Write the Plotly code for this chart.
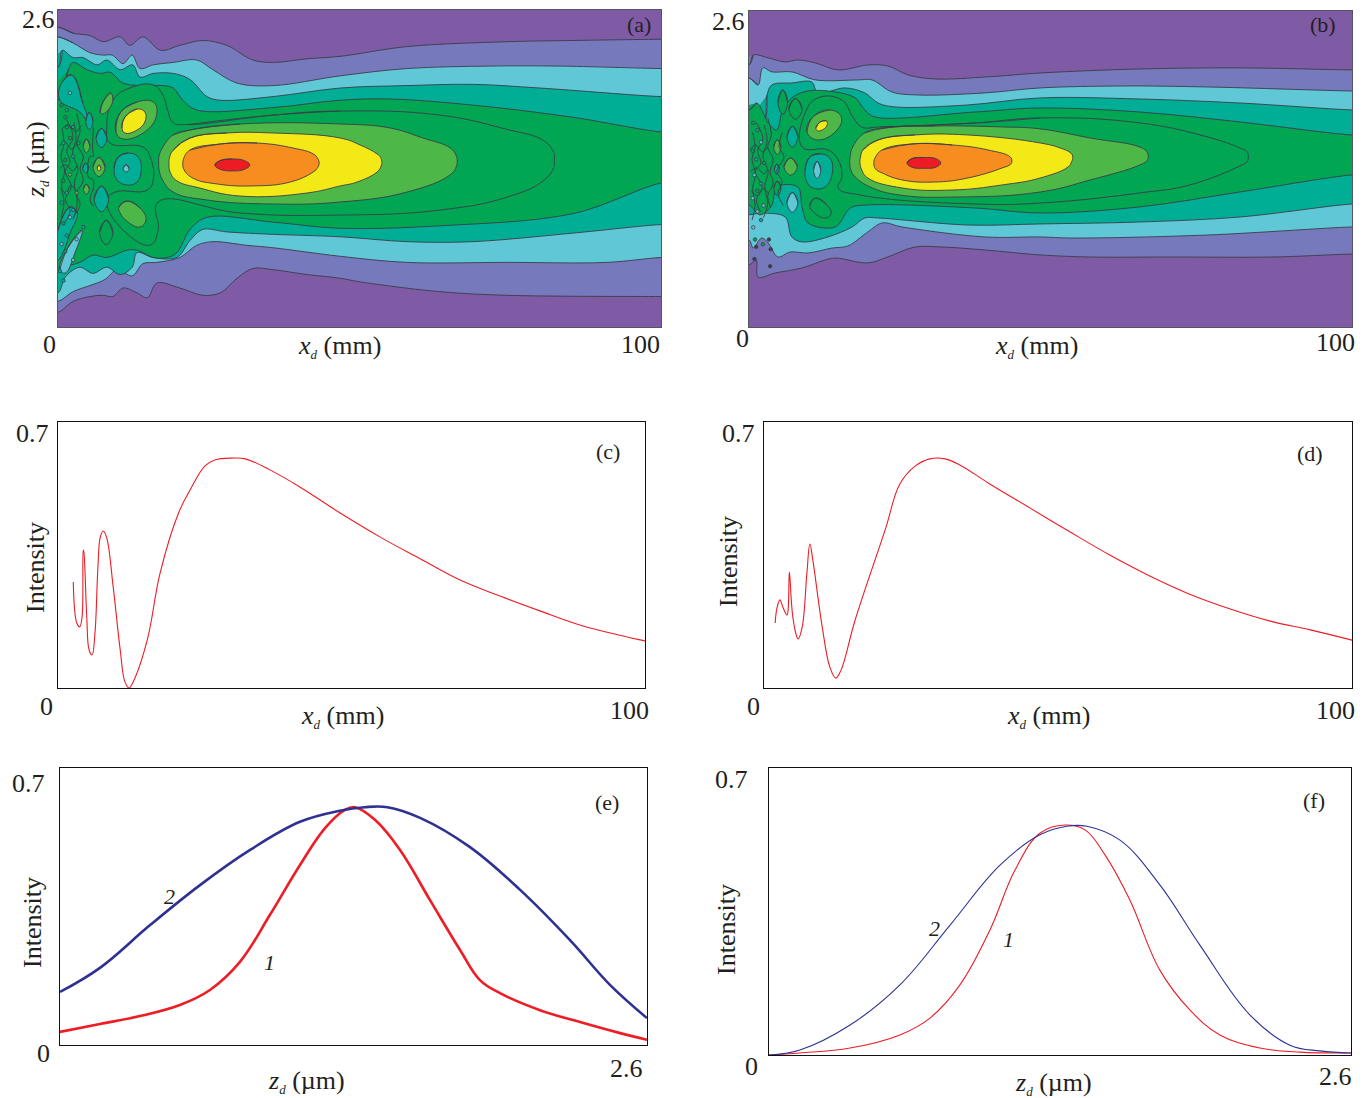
import plotly.graph_objects as go

W, H = 1369, 1098
PURPLE, VIOLET, CYAN, TEAL = "#7F5AA5", "#7679BB", "#5FC7D6", "#00AE95"
GREEN, LIGHT, YELLOW, ORANGE, RED = "#00A651", "#4DB848", "#F2E916", "#F78D1E", "#ED1C24"
EDGE = "#3c3c4a"

# ---------- panel (a): open bands, (x, z) ----------
a1_tx = [0,2.5,5.3,7.5,10.3,11.9,14.1,17,20.2,24,28,32.3,35.7,41.3,46.8,57.9,74.5,85.4,100]
a1_tz = [2.46,2.41,2.39,2.34,2.38,2.31,2.38,2.27,2.31,2.35,2.31,2.19,2.17,2.20,2.22,2.30,2.34,2.35,2.36]
a1_bx = [0,2.5,5.3,7.5,9.1,10.8,13.1,14.8,16.4,20.2,24,26.9,29.7,32.3,35.7,41.3,46.8,50.1,63.3,74.5,100]
a1_bz = [.12,.21,.25,.26,.25,.32,.28,.24,.36,.32,.26,.28,.40,.48,.47,.43,.40,.37,.29,.26,.25]
a2_tx = [0,2.5,5.3,7.5,9,10.8,12.3,13.6,15.8,19.1,23,25.7,29.7,35.7,46.8,57.9,71.6,82.8,100]
a2_tz = [2.38,2.33,2.25,2.23,2.23,2.16,2.23,2.12,2.15,2.17,2.19,2.11,2.00,1.98,2.06,2.12,2.14,2.14,2.12]
a2_bx = [0,2.5,5.3,7.8,9.8,12.3,14.1,16.4,20.2,23,25.7,31.3,35.7,46.8,57.9,74.5,91,100]
a2_bz = [.21,.29,.34,.39,.47,.42,.52,.53,.57,.67,.70,.67,.65,.58,.53,.53,.53,.57]
a3_tx = [0,.7,2.5,4.1,6.5,8.1,10.3,12.4,13.6,15.8,19.1,21.9,24.7,26.9,35.7,46.8,57.9,68.8,79.9,100]
a3_tz = [2.13,2.27,2.21,2.21,2.15,2.19,2.11,2.15,2.05,2.08,2.08,2.03,1.89,1.86,1.89,1.96,1.98,1.99,1.96,1.89]
a3_bx = [0,1.2,3.6,5.8,8.1,10.3,12.3,13.1,15.8,19.7,21.9,24,28,35.7,46.8,57.9,68.8,85.4,100]
a3_bz = [.28,.41,.49,.44,.49,.43,.49,.61,.57,.57,.71,.80,.78,.76,.74,.70,.70,.77,.84]
a4_tx = [0,1.7,2.5,4.8,7,8.6,10.8,13.6,17.4,19.1,20.7,23,35.7,46.8,55.1,68.8,85.4,100]
a4_tz = [1.86,2.11,2.17,2.11,2.08,2.09,2.00,1.98,1.98,1.96,1.86,1.78,1.80,1.86,1.87,1.82,1.72,1.60]
a4_bx = [0,3.6,5.8,8.1,11.4,13.1,15.8,18.1,19.7,21.9,24.7,35.7,46.8,63.3,85.4,100]
a4_bz = [.49,.53,.59,.57,.63,.63,.57,.57,.61,.80,.90,.86,.81,.83,.93,1.18]

# ---------- panel (a): closed contours ----------
a5_x = [46.8,35.7,21.4,19.1,18.2,17.4,15.8,11.9,9.1,8.1,8.6,14.1,15.3,15.8,14.8,9.5,8.1,10.3,15.3,16.6,16.6,30.2,46.8,63.3,74.5,80.5,82.2,82.3,82.2,80.5,74.5,63.3]
a5_z = [1.771,1.738,1.66,1.677,1.775,1.9,1.985,1.96,1.861,1.64,1.509,1.476,1.394,1.205,1.122,1.107,1.041,.82,.672,.795,1.025,.935,.918,.959,1.066,1.2,1.31,1.37,1.43,1.53,1.62,1.738]
a6_x = [30.2,21.9,19.1,17.4,16.8,16.7,16.8,17.4,19.1,24.7,35.7,46.8,57.9,65,66,66.2,66,65,60.5,55.1,46.8]
a6_z = [1.665,1.616,1.575,1.476,1.41,1.345,1.28,1.2,1.107,1.042,1.009,1.025,1.107,1.247,1.31,1.36,1.41,1.47,1.55,1.632,1.665]
a7_x = [28,21.9,19.1,18.5,18.4,18.6,19.7,23.5,30.2,41.3,46.8,49.6,52.9,53.5,53.7,53.5,52.9,50.1,46.8,35.7]
a7_z = [1.591,1.55,1.45,1.39,1.335,1.27,1.2,1.14,1.074,1.099,1.157,1.189,1.27,1.31,1.35,1.39,1.42,1.493,1.55,1.591]
a8_x = [33,26.9,21.9,20.9,20.7,20.9,22.4,26.4,32.3,38.5,42.3,43.1,43.3,43.1,42.3,39]
a8_z = [1.509,1.501,1.452,1.39,1.34,1.29,1.22,1.173,1.157,1.189,1.271,1.31,1.345,1.38,1.42,1.468]
a9_x = [28.9,26.9,26,26.9,28.9,30.9,31.8,30.9]
a9_z = [1.378,1.365,1.329,1.293,1.28,1.293,1.329,1.365]

a_islands = [
    (TEAL,[.7,2.3,4.1,5.3,3.6,.3],[2.009,2.066,1.837,1.656,1.763,1.861]),
    (TEAL,[0,2,3.2,2,.8,0],[.795,.984,.935,.771,.607,.55]),
    (CYAN,[.3,1.7,4,2.8,1.2],[.467,.656,.795,.607,.443]),
    (LIGHT,[9.6,10.3,13.1,15.8,16.4,14.8,10.8],[1.60,1.755,1.845,1.845,1.755,1.616,1.542]),
    (YELLOW,[10.6,11.1,13.1,14.4,14.4,12.8,11.1],[1.632,1.722,1.788,1.763,1.681,1.607,1.591]),
    (LIGHT,[10.1,11.4,13.6,14.6,13.6,11.6,10.3],[.984,1.033,.976,.878,.82,.861,.935]),
    (TEAL,[9.3,10,11.6,13.3,13.8,13.1,11.4,9.8],[1.304,1.394,1.427,1.394,1.288,1.189,1.165,1.206]),
    (CYAN,[10.8,11.3,11.8,11.3],[1.30,1.33,1.30,1.27]),
    (LIGHT,[5.8,6.8,7.8,6.8],[1.312,1.39,1.312,1.234]),
    (YELLOW,[6.5,6.8,7.1,6.8],[1.304,1.329,1.304,1.279]),
    (TEAL,[6.3,7.2,8.1,7.2],[1.55,1.628,1.55,1.472]),
    (TEAL,[4.6,5.2,5.8,5.2],[1.69,1.76,1.69,1.62]),
    (LIGHT,[7.0,7.5,8.7,9.1,8.5,7.4],[1.76,1.85,1.92,1.87,1.79,1.747]),
    (LIGHT,[4.2,4.7,5.3,4.7],[1.485,1.54,1.485,1.43]),
    (TEAL,[4.1,4.6,5.1,4.6],[1.304,1.344,1.304,1.264]),
    (LIGHT,[4.2,4.7,5.2,4.7],[1.13,1.17,1.13,1.09]),
    (TEAL,[6,7.2,8.4,7.2],[1.05,1.155,1.05,.945]),
    (GREEN,[6.9,8,9.1,8],[.775,.875,.775,.675]),
]
a_lines_x = [[5.86,5.75,5.86,5.3,5.03,5.86,5.86,5.3,5.86],
             [3.1,3.65,3.1,4.2,3.65,4.2,3.1,3.65,2.5],
             [1.45,2.5,1.45,2,1.2,2.2,1.2,2,1],
             [.3,1.2,2.5,3.1],[.2,1.1,2.2,3.2],[.4,1.3,2.1,3],[.6,1.6,2.9,3.8],
             [2.6,3,2.4,3.3,2.7,3.2,2.5],[.7,1,.5,1.1,.6,1,.5]]
a_lines_z = [[1.64,1.45,1.40,1.40,1.23,1.205,1.14,1.04,.99],
             [1.75,1.6,1.5,1.4,1.3,1.2,1.1,1.0,.9],
             [1.7,1.55,1.45,1.35,1.28,1.15,1.05,.95,.85],
             [1.3,1.33,1.28,1.32],[1.48,1.52,1.46,1.5],[1.14,1.1,1.16,1.12],[1.62,1.66,1.6,1.65],
             [1.68,1.55,1.42,1.3,1.18,1.02,.88],[1.62,1.5,1.4,1.28,1.16,1.02,.9]]
a_dots_x = [2,.6,1.45,1.2,1.45,2.5,2,.9,3.4,2.5,1.2,2,.9,3.1,1.45,.6,2.5,2,.9,1.45,3.1,.6,4.2,1.2,2.5,.3,.9]
a_dots_z = [1.92,1.82,1.78,1.72,1.64,1.64,1.55,1.51,1.51,1.40,1.37,1.25,1.2,1.1,1.1,1.02,.96,.9,.85,.75,.72,.68,.82,.62,.55,.46,.38]
a_dots_c = [CYAN,GREEN,TEAL,GREEN,GREEN,TEAL,GREEN,TEAL,GREEN,TEAL,GREEN,LIGHT,GREEN,LIGHT,TEAL,TEAL,TEAL,CYAN,GREEN,TEAL,CYAN,CYAN,TEAL,GREEN,CYAN,TEAL,TEAL]

# ---------- panel (b) ----------
b1_tx = [0,.7,3.2,6,8.1,11,14.8,19.7,23,26.4,30.9,39.6,48.3,64.8,81.4,100]
b1_tz = [2.156,2.238,2.214,2.181,2.197,2.173,2.115,2.156,2.148,2.074,2.041,2.058,2.09,2.123,2.132,2.115]
b1_bx = [0,1.2,1.5,4.3,8.8,12.6,14.3,19.7,23,27.5,32,39.1,48.3,56.5,70.3,86.9,100]
b1_bz = [.51,.551,.41,.444,.486,.551,.568,.527,.576,.658,.658,.634,.593,.576,.576,.576,.60]
b2_tx = [0,1.5,2.3,3.8,7.1,11,18.1,20.4,23.7,28,39.1,48.3,62,75.9,100]
b2_tz = [2.049,1.992,2.132,2.099,2.099,2.033,2.033,2.033,1.934,1.909,1.926,1.967,1.983,1.975,1.942]
b2_bx = [0,.7,2.1,3.2,4.8,6.8,9.8,13.8,16.4,19.7,22.1,25.4,39.1,48.3,53.7,76,100]
b2_bz = [.716,.65,.732,.691,.576,.617,.609,.65,.667,.782,.856,.823,.741,.741,.732,.757,.823]
b3_tx = [2.3,3,3.8,7.1,10.4,11.4,15.9,19.2,21.4,24.2,36.3,48.3,64.8,81.4,100]
b3_tz = [1.662,1.909,1.992,2.008,2.016,1.926,1.967,1.926,1.843,1.811,1.827,1.885,1.876,1.843,1.786]
b3_bx = [2.3,6,7.1,8.8,13.1,17.1,19.2,21.4,36.3,48.3,64.8,81.4,100]
b3_bz = [.938,.905,.741,.70,.741,.823,.897,.897,.839,.848,.864,.905,1.012]
b4_tx = [0,1.3,3.2,4.6,5.6,7.3,9.8,14.3,17.6,19.2,20.9,37.5,48.3,64.8,81.4,100]
b4_tz = [1.786,1.843,1.679,1.621,1.786,1.893,1.942,1.934,1.885,1.786,1.728,1.769,1.802,1.769,1.687,1.58]
b4_bx = [0,1.8,3.8,4.6,8.1,8.8,9.8,14.3,16.8,19.7,37.5,48.3,64.8,81.4,100]
b4_bz = [1.004,.922,1.004,1.152,1.152,.988,.856,.823,.979,1.004,.979,.938,.988,1.111,1.251]
b5_x = [48.3,37.5,21.7,18.7,17.2,15.4,11.4,9.3,8.8,13.1,14.8,15.4,14.8,18.4,37.5,48.3,64.8,73.1,81.4,82.6,82.8,82.6,81.4,76,64.8]
b5_z = [1.72,1.679,1.646,1.646,1.728,1.868,1.885,1.761,1.481,1.457,1.374,1.235,1.144,1.086,1.012,1.02,1.103,1.169,1.325,1.36,1.399,1.44,1.473,1.564,1.679]
b6_x = [30.8,22.6,19.2,17.2,16.8,16.7,16.9,17.6,20.1,25,35,48.3,56.6,64.8,66,66.2,66,64.8,56.6,48.3,42]
b6_z = [1.654,1.638,1.597,1.481,1.41,1.358,1.29,1.235,1.152,1.086,1.07,1.111,1.21,1.333,1.37,1.407,1.44,1.481,1.555,1.63,1.646]
b7_x = [27.5,21.4,18.9,18.5,18.4,18.7,19.7,25.4,33.7,42,48.3,52.9,53.5,53.7,53.4,51.6,48.3,36.3]
b7_z = [1.58,1.539,1.457,1.4,1.35,1.292,1.226,1.144,1.127,1.169,1.226,1.317,1.36,1.399,1.43,1.473,1.514,1.58]
b8_x = [33.7,27,22.1,21,20.7,21,22.1,25.4,30.8,36.3,42,43.4,43.6,43.3,39.6]
b8_z = [1.498,1.506,1.457,1.4,1.35,1.3,1.267,1.21,1.193,1.226,1.309,1.34,1.366,1.4,1.457]
b9_x = [29,27,26.2,27,29,31,31.8,31]
b9_z = [1.394,1.385,1.35,1.315,1.306,1.315,1.35,1.385]
b_islands = [
    (LIGHT,[9.6,10.6,13.4,15.3,14.6,11.4],[1.605,1.728,1.786,1.728,1.621,1.539]),
    (YELLOW,[11.1,11.8,12.9,12.8,11.4],[1.638,1.687,1.695,1.646,1.613]),
    (TEAL,[9.3,10.1,11.8,13.4,13.8,12.6,10.6,9.6],[1.292,1.399,1.424,1.391,1.267,1.152,1.144,1.193]),
    (CYAN,[10.7,11.3,11.9,11.3],[1.292,1.362,1.292,1.222]),
    (LIGHT,[5.8,6.9,8,6.9],[1.32,1.39,1.32,1.25]),
    (TEAL,[6.3,7.2,8.1,7.2],[1.565,1.65,1.565,1.48]),
    (CYAN,[6.3,7.2,8.1,7.2],[1.025,1.105,1.025,.945]),
    (LIGHT,[4.1,4.7,5.3,4.7],[1.48,1.54,1.48,1.42]),
    (TEAL,[4.2,4.6,5,4.6],[1.30,1.34,1.30,1.26]),
    (GREEN,[6.6,7.7,8.8,7.7],[1.795,1.88,1.795,1.71]),
    (GREEN,[4.8,5.6,6.4,5.6],[1.85,1.95,1.85,1.75]),
    (GREEN,[10.1,11,13,13.6,12.6,10.8],[1.0,1.06,1.0,.93,.897,.94]),
    (GREEN,[4.1,4.7,5.3,4.7],[1.14,1.2,1.14,1.08]),
]
b_lines_x = [[5.5,5,5.8,4.6,5.5,4.8,5.7],[3.1,3.7,3.1,4,3.5,4,3.1,3.6],[1.2,2.3,1.4,2,1,2.2,1.2,1.9],[.3,1.2,2.5,3.1],
             [.2,1.1,2.2,3.1],[.4,1.4,2.4,3.2],[2.5,3,2.3,3.2,2.6,3.1,2.4],[.6,1,.5,1.1,.6,1,.5]]
b_lines_z = [[1.6,1.48,1.4,1.28,1.2,1.1,1.0],[1.72,1.58,1.48,1.38,1.28,1.18,1.08,.98],[1.68,1.55,1.45,1.35,1.28,1.15,1.05,.95],[1.28,1.31,1.26,1.3],
             [1.46,1.5,1.44,1.48],[1.12,1.08,1.14,1.1],[1.66,1.53,1.4,1.28,1.16,1.02,.9],[1.6,1.48,1.38,1.26,1.14,1.0,.88]]
b_dots_x = [.7,1.4,2,.6,1.2,2.5,.9,2,1.4,.6,2.4,1.4,2,.7,1,2.3,3.3,3.6,3.5,1.2,.9]
b_dots_z = [1.68,1.62,1.52,1.45,1.38,1.35,1.25,1.18,1.12,1.06,1.0,.95,.88,.82,.72,.68,.72,.64,.5,.66,.56]
b_dots_c = [GREEN,TEAL,CYAN,GREEN,TEAL,GREEN,CYAN,TEAL,GREEN,CYAN,CYAN,CYAN,TEAL,CYAN,GREEN,GREEN,EDGE,EDGE,EDGE,EDGE,EDGE]

# ---------- panels (c) (d) ----------
c_x = [2.6,3.2,3.7,4.1,4.3,4.4,4.9,5.3,5.8,6.3,6.8,7.2,7.7,8.3,9.4,10.6,11.4,12.1,12.8,15.2,17.4,20.6,22.5,25,26.7,29.6,31.9,36.1,41.2,48,54.9,61.7,68.5,75.3,82.1,88.9,95.7,100]
c_y = [.279,.171,.161,.187,.363,.358,.187,.10,.087,.145,.318,.397,.413,.395,.266,.10,.016,0,.016,.126,.303,.463,.521,.584,.60,.605,.603,.574,.529,.461,.397,.34,.284,.242,.203,.166,.139,.124]
d_x = [1.9,2.2,2.7,3.2,3.9,4.1,4.3,4.4,4.9,5.6,5.8,6.5,7.3,7.8,8.3,9.9,11.2,12.2,13.1,15.5,20.6,23.1,25.7,28.2,30.8,33.3,38.4,45.2,52,58.8,65.6,72.4,79.3,86.1,92.9,100]
d_y = [.171,.21,.232,.213,.192,.205,.305,.292,.187,.134,.129,.161,.303,.379,.337,.161,.055,.026,.047,.179,.416,.537,.584,.603,.603,.587,.537,.474,.411,.35,.295,.247,.208,.176,.153,.126]

# ---------- panels (e) (f) ----------
e1_x = [0,.177,.354,.531,.664,.797,.93,1.063,1.174,1.262,1.307,1.395,1.506,1.639,1.772,1.86,1.949,2.126,2.303,2.481,2.6]
e1_y = [.033,.053,.073,.101,.139,.21,.329,.455,.548,.594,.601,.569,.493,.366,.24,.164,.131,.088,.058,.03,.013]
e2_x = [0,.177,.399,.62,.842,1.063,1.24,1.35,1.45,1.595,1.816,2.038,2.259,2.436,2.6]
e2_y = [.134,.195,.303,.404,.493,.564,.592,.601,.601,.574,.50,.392,.265,.152,.068]
f1_x = [0,.138,.362,.585,.719,.853,.987,1.099,1.21,1.322,1.412,1.501,1.612,1.746,1.88,2.014,2.193,2.372,2.6]
f1_y = [0,.005,.017,.049,.09,.171,.305,.451,.541,.561,.549,.488,.378,.207,.11,.049,.017,.007,.005]
f2_x = [0,.138,.362,.585,.809,1.032,1.21,1.33,1.42,1.568,1.746,1.925,2.148,2.327,2.461,2.6]
f2_y = [0,.012,.073,.171,.317,.463,.537,.558,.558,.524,.415,.268,.098,.024,.01,.005]

XMAX_MM, ZMAX, IMAX = 100, 2.6, 0.7

# pixel rectangles: left, right, top, bottom
RECT = {"a":(58,661,10,327),"b":(749,1352,11,327),"c":(58,645,422,688),
        "d":(764,1352,422,688),"e":(60,647,768,1045),"f":(769,1351,768,1055)}
names = list(RECT)
fig = go.Figure()
layout = dict(width=W, height=H, margin=dict(l=0,r=0,t=0,b=0), paper_bgcolor="white",
              plot_bgcolor="rgba(0,0,0,0)", showlegend=False)
RANGES = {"a":(XMAX_MM,ZMAX),"b":(XMAX_MM,ZMAX),"c":(XMAX_MM,IMAX),"d":(XMAX_MM,IMAX),"e":(ZMAX,IMAX),"f":(ZMAX,IMAX)}
for i,n in enumerate(names):
    l,r,t,b = RECT[n]
    s = "" if i==0 else str(i+1)
    col = "#55555f" if n in "ab" else "#111111"
    layout["xaxis"+s] = dict(domain=[l/W,r/W],range=[0,RANGES[n][0]],showgrid=False,zeroline=False,
                             showticklabels=False,ticks="",showline=True,mirror=True,linecolor=col,linewidth=1,
                             anchor="y"+s)
    layout["yaxis"+s] = dict(domain=[1-b/H,1-t/H],range=[0,RANGES[n][1]],showgrid=False,zeroline=False,
                             showticklabels=False,ticks="",showline=True,mirror=True,linecolor=col,linewidth=1,
                             anchor="x"+s)
fig.update_layout(**layout)

def ax(n):
    i = names.index(n)
    s = "" if i==0 else str(i+1)
    return dict(xaxis="x"+s, yaxis="y"+s)

def closed(n, x, z, fill, lw=0.9, smooth=1.25):
    # the path runs past its start so that the spline has no corner there
    fig.add_trace(go.Scatter(x=list(x)+list(x[:3]), y=list(z)+list(z[:3]), mode="lines", fill="toself", fillcolor=fill,
                             line=dict(color=EDGE,width=lw,shape="spline",smoothing=smooth),
                             hoverinfo="skip", **ax(n)))

def band(n, tx, tz, bx, bz, fill):
    x = [tx[0]-3]+list(tx)+[tx[-1]+3, bx[-1]+3]+list(bx[::-1])+[bx[0]-3]
    z = [tz[0]]+list(tz)+[tz[-1], bz[-1]]+list(bz[::-1])+[bz[0]]
    closed(n, x, z, fill, smooth=1.0)

def contour_panel(n, bands, solids, islands, lx, lz, dx, dz, dc):
    fig.add_trace(go.Scatter(x=[0,XMAX_MM,XMAX_MM,0,0],y=[0,0,ZMAX,ZMAX,0],mode="lines",fill="toself",
                             fillcolor=PURPLE,line=dict(width=0),hoverinfo="skip",**ax(n)))
    for b in bands: band(n,*b)
    for c,x,z in solids: closed(n,x,z,c)
    for c,x,z in islands: closed(n,x,z,c)
    for x,z in zip(lx,lz):
        fig.add_trace(go.Scatter(x=x,y=z,mode="lines",line=dict(color=EDGE,width=.9,shape="spline"),hoverinfo="skip",**ax(n)))
    fig.add_trace(go.Scatter(x=dx,y=dz,mode="markers",hoverinfo="skip",
                             marker=dict(size=3.5,color=dc,line=dict(color=EDGE,width=.8)),**ax(n)))

contour_panel("a",
    [(a1_tx,a1_tz,a1_bx,a1_bz,VIOLET),(a2_tx,a2_tz,a2_bx,a2_bz,CYAN),(a3_tx,a3_tz,a3_bx,a3_bz,TEAL),(a4_tx,a4_tz,a4_bx,a4_bz,GREEN)],
    [(GREEN,a5_x,a5_z),(LIGHT,a6_x,a6_z),(YELLOW,a7_x,a7_z),(ORANGE,a8_x,a8_z),(RED,a9_x,a9_z)],
    a_islands,a_lines_x,a_lines_z,a_dots_x,a_dots_z,a_dots_c)
contour_panel("b",
    [(b1_tx,b1_tz,b1_bx,b1_bz,VIOLET),(b2_tx,b2_tz,b2_bx,b2_bz,CYAN),(b3_tx,b3_tz,b3_bx,b3_bz,TEAL),(b4_tx,b4_tz,b4_bx,b4_bz,GREEN)],
    [(GREEN,b5_x,b5_z),(LIGHT,b6_x,b6_z),(YELLOW,b7_x,b7_z),(ORANGE,b8_x,b8_z),(RED,b9_x,b9_z)],
    b_islands,b_lines_x,b_lines_z,b_dots_x,b_dots_z,b_dots_c)

def curve(n,x,y,color,w):
    fig.add_trace(go.Scatter(x=x,y=y,mode="lines",line=dict(color=color,width=w,shape="spline",smoothing=1.1),hoverinfo="skip",**ax(n)))
RED_L, BLUE_L = "#EE1C25", "#2E3192"
curve("c",c_x,c_y,RED_L,1.1)
curve("d",d_x,d_y,RED_L,1.1)
curve("e",e1_x,e1_y,RED_L,2.6)
curve("e",e2_x,e2_y,BLUE_L,2.6)
curve("f",f1_x,f1_y,RED_L,1.1)
curve("f",f2_x,f2_y,BLUE_L,1.1)

# ---------- text ----------
SUB = '<sub><span style="font-size:13px">d</span></sub>'
XMM = "<i>x"+SUB+"</i> (mm)"
ZUM = "<i>z"+SUB+"</i> (µm)"
texts = [
 ("2.6",38,20,26,0),("0",49,344,26,0),("100",640,344,26,0),(XMM,339,347,26,0),(ZUM,36,160,26,-90),("(a)",639,25,22,0),
 ("2.6",728,22,26,0),("0",743,338,26,0),("100",1335,342,26,0),(XMM,1036,347,26,0),("(b)",1323,25,22,0),
 ("0.7",32,434,26,0),("0",47,706,26,0),("100",629,710,26,0),(XMM,342,717,26,0),("Intensity",35,568,26,-90),("(c)",608,451,22,0),
 ("0.7",738,434,26,0),("0",753,706,26,0),("100",1335,710,26,0),(XMM,1048,717,26,0),("Intensity",728,562,26,-90),("(d)",1310,453,22,0),
 ("0.7",28,783,26,0),("0",43,1053,26,0),("2.6",626,1068,26,0),(ZUM,306,1081,26,0),("Intensity",32,923,26,-90),("(e)",607,802,22,0),
 ("0.7",731,779,26,0),("0",752,1066,26,0),("2.6",1335,1076,26,0),(ZUM,1053,1083,26,0),("Intensity",726,930,26,-90),("(f)",1314,800,22,0),
 ("<i>2</i>",169,896,22,0),("<i>1</i>",269,962,22,0),("<i>2</i>",935,928,22,0),("<i>1</i>",1009,939,22,0),
]
for t,px,py,size,rot in texts:
    fig.add_annotation(text=t,x=px/W,y=1-py/H,xref="paper",yref="paper",xanchor="center",yanchor="middle",
                       showarrow=False,textangle=rot,font=dict(family="Liberation Serif",size=size,color="#231F20"))

fig.write_html("out.html", config={"displayModeBar":False}, post_script="document.body.style.margin='0';")
